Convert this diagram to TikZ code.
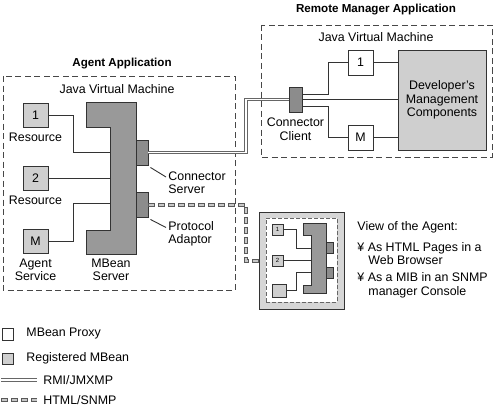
\documentclass[tikz,border=0pt]{standalone}
\usepackage{fontspec}
\setmainfont{Liberation Sans}
\usetikzlibrary{positioning}
\definecolor{regfill}{HTML}{CFCFCF}
\definecolor{srvfill}{HTML}{999999}
\definecolor{plugfill}{HTML}{8C8C8C}
\definecolor{edgecol}{HTML}{333333}
\definecolor{viewfill}{HTML}{D6D6D6}

\begin{document}
\begin{tikzpicture}[x=1pt,y=-1pt,line width=0.9pt,draw=edgecol,
                    node distance=5pt]
  \tikzstyle{every node}=[font=\fontsize{12.4}{13.5}\selectfont,inner sep=0pt]
  \tikzstyle{title}=[font=\fontsize{11.6}{13}\selectfont\bfseries]
  \tikzstyle{reg}=[draw=edgecol,fill=regfill,minimum width=25pt,minimum height=24pt]
  \tikzstyle{proxy}=[draw=edgecol,fill=white,minimum width=25pt,minimum height=25pt]
  \tikzstyle{plug}=[draw=edgecol,fill=plugfill,minimum width=12pt,minimum height=25pt]
  \tikzstyle{minireg}=[draw=edgecol,fill=regfill,minimum width=11pt,minimum height=11pt,
                       font=\fontsize{6}{6}\selectfont]
  \tikzstyle{app}=[draw=black!72,dash pattern=on 6pt off 3.5pt]
  \tikzstyle{txt}=[align=center]
  \tikzstyle{side}=[align=left,anchor=west]
  \tikzstyle{rmi}=[draw=black!60,double=white,double distance=1.6pt,line width=0.8pt]
  \tikzstyle{snmp}=[draw=black!65,line width=4pt,dash pattern=on 7pt off 3pt,
                    postaction={draw=black!22,line width=2pt,dash pattern=on 5pt off 5pt,dash phase=9pt}]

  \useasboundingbox (0,0) rectangle (495,412);

  \node[title] (agtitle) at (122,64) {Agent Application};
  \draw[app] (3,76) rectangle (235,290);
  \node (agjvm) at (117,89) {Java Virtual Machine};

  \node[title] (rmtitle) at (376,10) {Remote Manager Application};
  \draw[app] (261,25) rectangle (492,157);
  \node (rmjvm) at (376,37) {Java Virtual Machine};

  \node[reg] (res1) at (35.5,115) {1};
  \node[reg] (res2) at (35.5,178) {2};
  \node[reg] (agsvc) at (35.5,241) {M};
  \node[txt] (res1lbl) [below=of res1] {Resource};
  \node[txt] (res2lbl) [below=of res2] {Resource};
  \node[txt] (agsvclbl) [below=of agsvc] {Agent\\Service};

  \filldraw[draw=edgecol,fill=srvfill] (86,102) -- (136,102) -- (136,254) -- (86,254)
    -- (86,230) -- (110,230) -- (110,127) -- (86,127) -- cycle;
  \coordinate (srv1) at (110,152);
  \coordinate (srv3) at (110,203);
  \node[txt] (srvlbl) at (111,270) {MBean\\Server};

  \node[plug] (cs) at (142,152.5) {};
  \node[plug] (pa) at (142,204.5) {};
  \node[side] (cslbl) at (168,182.5) {Connector\\Server};
  \node[side] (palbl) at (168,234) {Protocol\\Adaptor};

  \draw (res1.east) -- ++(25,0) |- (srv1);
  \draw (res2.east) -- (res2.east -| srv1);
  \draw (agsvc.east) -- ++(25,0) |- (srv3);
  \draw ([shift={(2,2)}]cs.south east) -- ([shift={(-2,-5.5)}]cslbl.west);
  \draw ([shift={(2,2)}]pa.south east) -- ([shift={(-2,-6.5)}]palbl.west);

  \node[plug,minimum width=13pt] (cc) at (295.5,99.5) {};
  \node[txt] (cclbl) [below=of cc] {Connector\\Client};
  \node[proxy] (rm1) at (360.5,62.5) {1};
  \node[proxy] (rmM) at (360.5,137.5) {M};
  \node[draw=edgecol,fill=regfill,minimum width=88pt,minimum height=100pt,txt] (dev)
    at (442,100) {Developer's\\Management\\Components};

  \draw ([yshift=5.5pt]cc.east) -- ++(26,0) |- (rm1.west);
  \draw (cc.east) -- (cc.east -| dev.west);
  \draw ([yshift=-6.5pt]cc.east) -- ++(26,0) |- (rmM.west);
  \draw (rm1.east) -- (rm1.east -| dev.west);
  \draw (rmM.east) -- (rmM.east -| dev.west);

  \draw[rmi] (cs.east) -| (246,99.5) -- (cc.west);

  \node[draw=edgecol,fill=viewfill,minimum width=85pt,minimum height=97pt] (view) at (301.5,260.5) {};
  \node[draw=black!60,fill=white,dash pattern=on 4pt off 2pt,minimum width=71pt,minimum height=84pt] (viewin)
    at (301.5,260) {};
  \node[minireg] (mini1) at (277.5,229.5) {1};
  \node[minireg] (mini2) at (277.5,260.5) {2};
  \node[minireg,minimum width=14pt,minimum height=13pt] (mini3) at (279,290.5) {};
  \filldraw[draw=edgecol,fill=srvfill,line width=0.7pt] (303,223) -- (326,223) -- (326,293) -- (303,293)
    -- (303,285) -- (311,285) -- (311,235) -- (303,235) -- cycle;
  \filldraw[draw=edgecol,fill=plugfill,line width=0.7pt] (326,242) rectangle (333,253);
  \filldraw[draw=edgecol,fill=plugfill,line width=0.7pt] (326,267) rectangle (333,278);
  \coordinate (minisrv1) at (311,248);
  \coordinate (minisrv3) at (311,272);
  \draw[line width=0.7pt] (mini1.east) -- ++(13,0) |- (minisrv1);
  \draw[line width=0.7pt] (mini2.east) -- (mini2.east -| minisrv1);
  \draw[line width=0.7pt] (mini3.east) -- ++(10,0) |- (minisrv3);

  \draw[snmp] (pa.east) -| (246,260.5) -- (view.west);

  \node[side] (viewlbl) at (357,227) {View of the Agent:};
  \node[side] (viewhtml) at (357,253.5) {¥ As HTML Pages in a\\\hspace*{11pt}Web Browser};
  \node[side] (viewsnmp) at (357,285.5) {¥ As a MIB in an SNMP\\\hspace*{11pt}manager Console};

  \node[proxy,minimum width=11pt,minimum height=12pt] (keyproxy) at (7.5,334) {};
  \node[side] (keyproxylbl) at (26,334) {MBean Proxy};
  \node[reg,minimum width=11pt,minimum height=11pt] (keyreg) at (7.5,358.5) {};
  \node[side] (keyreglbl) at (26,358.5) {Registered MBean};
  \coordinate (keyrmi) at (1,380);
  \node[side] (keyrmilbl) at (43,380) {RMI/JMXMP};
  \draw[rmi] (keyrmi) -- ([xshift=-6pt]keyrmilbl.west);
  \coordinate (keysnmp) at (1,400);
  \node[side] (keysnmplbl) at (43,400) {HTML/SNMP};
  \draw[snmp] (keysnmp) -- ([xshift=-6pt]keysnmplbl.west);
\end{tikzpicture}
\end{document}
